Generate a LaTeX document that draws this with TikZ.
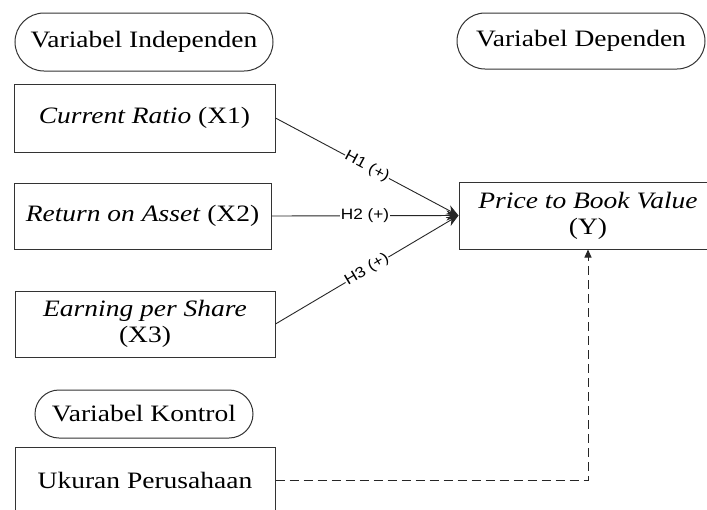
\documentclass[tikz,border=0pt]{standalone}
\usepackage{fontspec}
\setmainfont{Liberation Serif}[UprightFont=*, ItalicFont=* Italic, BoldFont=* Bold, FakeStretch=1.17]
\setsansfont{Liberation Sans}[FakeStretch=1.15]
\usetikzlibrary{arrows.meta}
\begin{document}
\begin{tikzpicture}[x=1pt,y=-1pt,
  every node/.style={font=\fontsize{23.5}{24}\selectfont, text=black, inner sep=0pt},
  varbox/.style={draw=black!80, line width=1pt, rectangle, align=center},
  pill/.style={draw=black!80, line width=1pt, rectangle, rounded corners=#1},
  link/.style={draw=black!85, line width=0.9pt, -{Stealth[length=12pt,width=10pt]}},
  hlabel/.style={midway, sloped, fill=white, inner sep=0.6pt, font=\sffamily\fontsize{15}{15}\selectfont},
  ctrl/.style={draw=black!85, line width=1pt, dash pattern=on 9pt off 5pt, -{Triangle[length=8pt,width=7pt]}}
]
\clip (0,0) rectangle (707,509);
\fill[white] (0,0) rectangle (707,509);

\node[pill=29pt, minimum width=258pt, minimum height=58pt] (vi) at (144,42) {Variabel Independen};
\node[pill=28pt, minimum width=248pt, minimum height=56pt] (vd) at (581,41) {Variabel Dependen};
\node[pill=24pt, minimum width=218pt, minimum height=48pt] (vk) at (144,414) {Variabel Kontrol};

\node[varbox, minimum width=261pt, minimum height=68pt] (x1) at (144.5,118) {\textit{Current Ratio} (X1)};
\node[varbox, minimum width=257pt, minimum height=66pt] (x2) at (142.5,216) {\textit{Return on Asset} (X2)};
\node[varbox, minimum width=260pt, minimum height=66pt] (x3) at (145,324) {\textit{Earning per Share}\\[2pt](X3)};
\node[varbox, minimum width=260pt, minimum height=66pt] (ku) at (145,480) {Ukuran Perusahaan};
\node[varbox, minimum width=258pt, minimum height=67pt] (y) at (588,215.5) {\textit{Price to Book Value}\\[2pt](Y)};

\draw[link] (x1.east) -- node[hlabel] {H1 (+)} (y.west);
\draw[link] (x2.east) -- node[hlabel] {H2 (+)} (y.west);
\draw[link] (x3.east) -- node[hlabel] {H3 (+)} (y.west);

\draw[ctrl] (ku.east) -| (y.south);
\end{tikzpicture}
\end{document}
